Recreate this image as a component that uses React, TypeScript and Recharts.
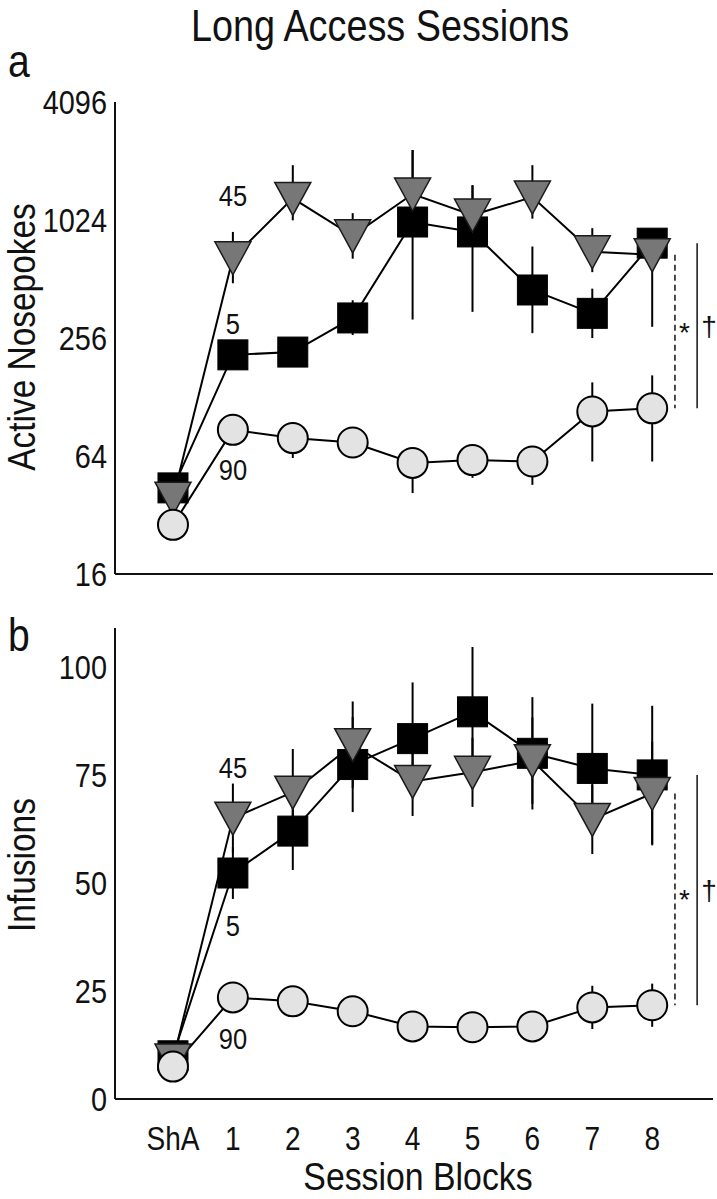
import { LineChart, Line, XAxis, YAxis, ErrorBar, ReferenceLine, LabelList } from 'recharts';

const FONT = '"Liberation Sans", Arial, Helvetica, sans-serif';
const NARROW = 0.85; // the figure uses a condensed Helvetica

const sessions = ['ShA', '1', '2', '3', '4', '5', '6', '7', '8'];
const groupNames = ['5', '45', '90'];

// panel a: active nosepokes (log2 axis)
const pokesTicks = [16, 64, 256, 1024, 4096];
const pokes5 = [44, 210, 217, 324, 1000, 890, 450, 342, 780];
const pokes5Err = [[3, 3], [22, 25], [15, 18], [59, 75], [682, 1330], [542, 650], [179, 300], [86, 115], [90, 100]];
const pokes45 = [39, 657, 1320, 850, 1390, 1085, 1340, 705, 680];
const pokes45Err = [[3, 3], [170, 233], [300, 630], [200, 260], [400, 940], [300, 455], [300, 610], [150, 225], [388, 200]];
const pokes90 = [28.5, 87, 79, 75, 59, 61, 60, 108, 112];
const pokes90Err = [[2, 2], [4, 5], [16.5, 4], [5, 3], [17.6, 11.5], [11.5, 12], [14.4, 11], [48, 44], [52, 53]];

// panel b: infusions
const infTicks = [0, 25, 50, 75, 100];
const inf5 = [10, 52.3, 62, 77.4, 83.4, 89.6, 80, 76.5, 75];
const inf5Err = [1, 6, 9, 11, 13, 15, 13, 15, 16];
const inf45 = [9, 65, 71, 82, 73.5, 75.6, 78.3, 64.7, 70.7];
const inf45Err = [1, 8, 10, 10, 8, 8, 10, 8, 12];
const inf90 = [7.5, 23.5, 22.6, 20.3, 16.8, 16.6, 16.8, 21.2, 21.7];
const inf90Err = [1, 1, 3, 1, 2, 1, 2, 5, 5];

const pokesData = sessions.map((s, i) => ({
  x: i, g5: pokes5[i], g5e: pokes5Err[i], g45: pokes45[i], g45e: pokes45Err[i], g90: pokes90[i], g90e: pokes90Err[i],
}));
const infData = sessions.map((s, i) => ({
  x: i, g5: inf5[i], g5e: inf5Err[i], g45: inf45[i], g45e: inf45Err[i], g90: inf90[i], g90e: inf90Err[i],
}));

const xTicks = sessions.map((s, i) => i);
const xDomain = [-0.968, 9.015];

const Square = (p: any) => (
  <rect key={p.index} x={p.cx - 15} y={p.cy - 15} width={30} height={30} fill="#000" stroke="#000" strokeWidth={1} />
);
const Triangle = (p: any) => (
  <polygon
    key={p.index}
    points={`${p.cx - 18},${p.cy - 16} ${p.cx + 18},${p.cy - 16} ${p.cx},${p.cy + 17}`}
    fill="#777"
    stroke="#1a1a1a"
    strokeWidth={1.5}
  />
);
const Circle = (p: any) => (
  <circle key={p.index} cx={p.cx} cy={p.cy} r={15} fill="#e3e3e3" stroke="#000" strokeWidth={2} />
);

const YTick = (p: any) => (
  <g transform={`translate(${p.x},${p.y})`}>
    <text transform={`scale(${NARROW},1)`} textAnchor="end" dominantBaseline="central" fontSize={34} fontFamily={FONT} fill="#111">
      {p.payload.value}
    </text>
  </g>
);
const XTick = (p: any) => (
  <g transform={`translate(${p.x},${p.y})`}>
    <text transform={`scale(${NARROW},1)`} textAnchor="middle" dy="0.71em" fontSize={33} fontFamily={FONT} fill="#111">
      {sessions[p.payload.value]}
    </text>
  </g>
);

const groupLabel = (text: string, dy: number) => (p: any) => {
  if (p.index !== 1) return null;
  const x = p.x ?? p.viewBox?.x;
  const y = p.y ?? p.viewBox?.y;
  return (
    <g key="gl" transform={`translate(${x},${y + dy})`}>
      <text transform={`scale(${NARROW},1)`} textAnchor="middle" dominantBaseline="central" fontSize={30} fontFamily={FONT} fill="#111">
        {text}
      </text>
    </g>
  );
};

const axisLine = { stroke: '#111', strokeWidth: 2 };
const sigLabel = (v: string) => ({ value: v, position: 'right' as const, offset: 4, fontSize: 28, fontFamily: FONT, fill: '#111' });

// error bars go in invisible lines first so every marker covers them
const errorLines = (keys: string[]) =>
  keys.map((k) => (
    <Line key={k + 'err'} dataKey={k} stroke="none" dot={false} activeDot={false} isAnimationActive={false}>
      <ErrorBar dataKey={k + 'e'} direction="y" width={0} stroke="#000" strokeWidth={2} />
    </Line>
  ));

export default function App() {
  const text = (style: any, content: string) => (
    <div
      style={{
        position: 'absolute', fontFamily: FONT, color: '#111', whiteSpace: 'nowrap', textAlign: 'center', ...style,
      }}
    >
      {content}
    </div>
  );
  return (
    <div style={{ position: 'absolute', left: 0, top: 0, width: 717, height: 1199, background: '#fff', overflow: 'hidden' }}>
      <div style={{ position: 'absolute', left: 0, top: 0 }}>
        <LineChart width={717} height={600} data={pokesData} margin={{ top: 102, right: 4, bottom: 25, left: 0 }}>
          <XAxis dataKey="x" type="number" domain={xDomain} ticks={xTicks} tick={false} tickLine={false} axisLine={axisLine} height={1} />
          <YAxis
            type="number"
            scale="log"
            domain={[16, 4096]}
            ticks={pokesTicks}
            allowDataOverflow
            width={115}
            tickLine={false}
            tickSize={0}
            tickMargin={8}
            tick={YTick}
            axisLine={axisLine}
          />
          <ReferenceLine segment={[{ x: 8.38, y: pokes45[8] }, { x: 8.38, y: pokes90[8] }]} stroke="#111" strokeWidth={1.5} strokeDasharray="6 4" label={sigLabel('*')} />
          <ReferenceLine segment={[{ x: 8.75, y: pokes5[8] }, { x: 8.75, y: pokes90[8] }]} stroke="#111" strokeWidth={1.5} label={sigLabel('†')} />
          {errorLines(['g5', 'g45', 'g90'])}
          <Line dataKey="g5" stroke="#000" strokeWidth={2} dot={Square} activeDot={false} isAnimationActive={false}>
            <LabelList dataKey="g5" content={groupLabel(groupNames[0], -31)} />
          </Line>
          <Line dataKey="g45" stroke="#000" strokeWidth={2} dot={Triangle} activeDot={false} isAnimationActive={false}>
            <LabelList dataKey="g45" content={groupLabel(groupNames[1], -62)} />
          </Line>
          <Line dataKey="g90" stroke="#000" strokeWidth={2} dot={Circle} activeDot={false} isAnimationActive={false}>
            <LabelList dataKey="g90" content={groupLabel(groupNames[2], 40)} />
          </Line>
        </LineChart>
      </div>
      <div style={{ position: 'absolute', left: 0, top: 600 }}>
        <LineChart width={717} height={599} data={infData} margin={{ top: 28, right: 4, bottom: 0, left: 0 }}>
          <XAxis
            dataKey="x"
            type="number"
            domain={xDomain}
            ticks={xTicks}
            tickLine={false}
            tickSize={0}
            tickMargin={28}
            tick={XTick}
            axisLine={axisLine}
            height={100}
          />
          <YAxis
            type="number"
            domain={[0, 109]}
            ticks={infTicks}
            allowDataOverflow
            width={115}
            tickLine={false}
            tickSize={0}
            tickMargin={8}
            tick={YTick}
            axisLine={axisLine}
          />
          <ReferenceLine segment={[{ x: 8.38, y: inf45[8] }, { x: 8.38, y: inf90[8] }]} stroke="#111" strokeWidth={1.5} strokeDasharray="6 4" label={sigLabel('*')} />
          <ReferenceLine segment={[{ x: 8.75, y: inf5[8] }, { x: 8.75, y: inf90[8] }]} stroke="#111" strokeWidth={1.5} label={sigLabel('†')} />
          {errorLines(['g5', 'g45', 'g90'])}
          <Line dataKey="g5" stroke="#000" strokeWidth={2} dot={Square} activeDot={false} isAnimationActive={false}>
            <LabelList dataKey="g5" content={groupLabel(groupNames[0], 53)} />
          </Line>
          <Line dataKey="g45" stroke="#000" strokeWidth={2} dot={Triangle} activeDot={false} isAnimationActive={false}>
            <LabelList dataKey="g45" content={groupLabel(groupNames[1], -50)} />
          </Line>
          <Line dataKey="g90" stroke="#000" strokeWidth={2} dot={Circle} activeDot={false} isAnimationActive={false}>
            <LabelList dataKey="g90" content={groupLabel(groupNames[2], 41)} />
          </Line>
        </LineChart>
      </div>
      {text({ left: 80, width: 600, top: 0, fontSize: 45, lineHeight: '52px', transform: 'scaleX(0.84)' }, 'Long Access Sessions')}
      {text({ left: 6, top: 38, fontSize: 46, lineHeight: '46px', transform: `scaleX(${NARROW})` }, 'a')}
      {text({ left: 6, top: 612, fontSize: 46, lineHeight: '46px', transform: `scaleX(${NARROW})` }, 'b')}
      {text({ left: 22 - 200, width: 400, top: 337 - 19, fontSize: 38, lineHeight: '38px', transform: 'rotate(-90deg) scaleX(0.88)' }, 'Active Nosepokes')}
      {text({ left: 22 - 200, width: 400, top: 865 - 19, fontSize: 38, lineHeight: '38px', transform: 'rotate(-90deg) scaleX(0.88)' }, 'Infusions')}
      {text({ left: 418 - 200, width: 400, top: 1158, fontSize: 38, lineHeight: '38px', transform: 'scaleX(0.89)' }, 'Session Blocks')}
    </div>
  );
}
